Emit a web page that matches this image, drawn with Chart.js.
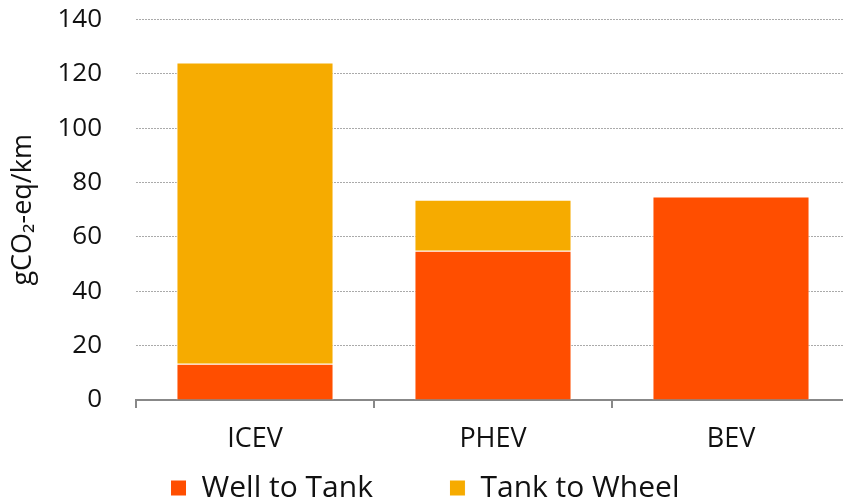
<!DOCTYPE html>
<html>
<head>
<meta charset="utf-8">
<script src="https://cdn.jsdelivr.net/npm/chart.js@4"></script>
<style>
  html, body { margin: 0; padding: 0; background: #fff; overflow: hidden; }
  #wrap { width: 850px; height: 499px; position: relative; }
</style>
</head>
<body>
<div id="wrap"><canvas id="grafico"></canvas></div>
<script>
const categorias = ['ICEV', 'PHEV', 'BEV'];
const wellToTank = [13.3, 54.9, 74.9];
const tankToWheel = [110.9, 18.8, 0];
const yTicks = [0, 20, 40, 60, 80, 100, 120, 140];

const fonte = '"Open Sans", "DejaVu Sans", sans-serif';

new Chart(document.getElementById('grafico'), {
    type: 'bar',
    data: {
        labels: categorias,
        datasets: [
            {
                label: 'Well to Tank',
                data: wellToTank,
                backgroundColor: '#FF4E00',
                borderColor: '#ffffff',
                borderWidth: 1,
                barPercentage: 0.66,
                categoryPercentage: 1
            },
            {
                label: 'Tank to Wheel',
                data: tankToWheel,
                backgroundColor: '#F6AB00',
                borderColor: '#ffffff',
                borderWidth: 1,
                barPercentage: 0.66,
                categoryPercentage: 1
            }
        ]
    },
    options: {
        responsive: true,
        maintainAspectRatio: false,
        animation: false,
        layout: { padding: { top: 0, right: 0, left: 0, bottom: -14 } },
        scales: {
            x: {
                stacked: true,
                afterFit: (axis) => { axis.height = 51; },
                grid: { display: true, drawOnChartArea: false, tickLength: 8, color: '#888', lineWidth: 2 },
                border: { display: true, color: '#888', width: 2 },
                ticks: { color: '#111', font: { family: fonte, size: 27 }, padding: 15 }
            },
            y: {
                stacked: true,
                min: 0,
                max: 140,
                afterBuildTicks: (axis) => { axis.ticks = yTicks.map(v => ({ value: v })); },
                afterFit: (axis) => { axis.width = 136; },
                // invisible tick marks keep the gap between labels and plot
                grid: { color: '#aaa', lineWidth: 1, drawTicks: true, tickLength: 30, tickColor: 'rgba(0,0,0,0)' },
                border: { display: false, dash: [2, 1] },
                ticks: { color: '#111', font: { family: fonte, size: 26 }, padding: 4 },
                title: {
                    display: true,
                    text: 'gCO₂-eq/km',
                    color: '#111',
                    font: { family: fonte, size: 27 },
                    padding: { top: 7, bottom: 20 }
                }
            }
        },
        plugins: {
            legend: {
                position: 'bottom',
                labels: {
                    color: '#111',
                    font: { family: fonte, size: 30 },
                    boxWidth: 16,
                    boxHeight: 16,
                    padding: 22,
                    generateLabels: (chart) => {
                        const items = Chart.defaults.plugins.legend.labels.generateLabels(chart);
                        // wider gap between the two entries, as in the original
                        items[0].text = items[0].text + '       ';
                        return items;
                    }
                }
            },
            tooltip: { enabled: false }
        }
    }
});
</script>
</body>
</html>
